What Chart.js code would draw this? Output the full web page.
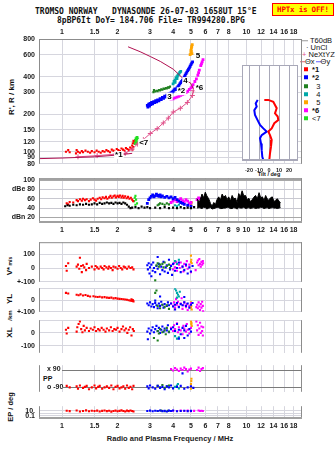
<!DOCTYPE html>
<html>
<head>
<meta charset="utf-8">
<script src="https://cdn.jsdelivr.net/npm/chart.js@4.4.1/dist/chart.umd.min.js"></script>
<style>
body { margin: 0; background: #fff; width: 335px; height: 451px; position: relative; overflow: hidden; font-family: "Liberation Sans", Arial, sans-serif; }
canvas { position: absolute; }
.t { position: absolute; white-space: pre; color: #111; line-height: 1; }
.mono { font-family: "DejaVu Sans Mono", monospace; font-size: 8px; font-weight: bold; }
.c { transform: translate(-50%, -50%); }
.rot { transform: translate(-50%, -50%) rotate(-90deg); font-weight: bold; }
.lg { position: absolute; left: 304px; font-size: 7.5px; white-space: pre; line-height: 1; transform: translateY(-50%); color: #111; }
.sq { display: inline-block; width: 4px; height: 4px; margin-right: 4px; vertical-align: 1px; }
</style>
</head>
<body>
<!-- en-tete -->
<div class="t mono" style="left:35px;top:8px">TROMSO NORWAY   DYNASONDE 26-07-03 1658UT 15°E</div>
<div class="t mono" style="left:57px;top:17px">8pBP6It DoY= 184.706 File= TR994280.BPG</div>
<div class="t mono" style="left:272px;top:3px;width:60px;height:11px;border:1px solid #f00;background:#ff0;color:#f00;text-align:center;line-height:11px;font-size:7.5px;letter-spacing:-0.2px">HPTx is OFF!</div>

<!-- titres des axes -->
<div class="t rot" style="left:12px;top:97px;font-size:8px">R', R / km</div>
<div class="t rot" style="left:10px;top:266px;font-size:8px">V*<span style="font-size:5px"> m/s</span></div>
<div class="t rot" style="left:10px;top:299px;font-size:8px">YL</div>
<div class="t rot" style="left:10px;top:324px;font-size:8px">XL<span style="font-size:6px">    /km</span></div>
<div class="t rot" style="left:11px;top:407px;font-size:7.5px">EP / deg</div>
<div class="t" style="left:43px;top:375px;font-size:7px;font-weight:bold">PP</div>
<div class="t c" style="left:269px;top:175px;font-size:5.5px;font-weight:bold">Tilt / deg</div>
<div class="t c" style="left:170px;top:439px;font-size:7.5px;font-weight:bold;color:#222">Radio and Plasma Frequency / MHz</div>

<!-- legende -->
<div class="lg" style="top:41px;left:302px"><span style="display:inline-block;width:6px;border-top:1px solid #999;vertical-align:2px;margin-right:2px"></span>T60dB</div>
<div class="lg" style="top:48px;left:306px">· UnCl</div>
<div class="lg" style="top:55px;left:302px"><span style="color:#e0508a">+</span> NeXtYZ</div>
<div class="lg" style="top:62px;left:300px"><span style="display:inline-block;width:5px;border-top:1px solid #e06070;vertical-align:2px"></span>Θx<span style="display:inline-block;width:5px;border-top:1px solid #6060ff;vertical-align:2px;margin-left:1px"></span>Θy</div>
<div class="lg" style="top:70px"><span class="sq" style="background:#f00"></span><b>*1</b></div>
<div class="lg" style="top:78px"><span class="sq" style="background:#00f"></span><b>*2</b></div>
<div class="lg" style="top:86.5px"><span class="sq" style="background:#208020"></span>  3</div>
<div class="lg" style="top:94.5px"><span class="sq" style="background:#00a8a8"></span>  4</div>
<div class="lg" style="top:102.5px"><span class="sq" style="background:#ffa500"></span>  5</div>
<div class="lg" style="top:110.5px"><span class="sq" style="background:#f0f"></span><b>*6</b></div>
<div class="lg" style="top:118.5px"><span class="sq" style="background:#20e020"></span>&lt;7</div>

<script>
// graduations en frequence (MHz)
const ticksTop = [1, 1.5, 2, 3, 4, 5, 6, 7, 8, 10, 12, 14, 16, 18];
const ticksMid = [1, 1.5, 2, 3, 4, 5, 6, 7, 8, 9, 10, 12, 14, 16, 18];
const ticksBottom = [1, 1.5, 2, 3, 4, 5, 6, 7, 8, 10, 12, 14, 16, 18];
const heightTicks = [80, 90, 100, 120, 150, 200, 300, 400, 600, 800];

// ionogramme : [f MHz, hauteur km]
const ionoRed = [[1.05,100],[1.08,103],[1.1,99],[1.19,97],[1.2,103],[1.22,100],[1.25,98],[1.28,101],[1.3,99],[1.34,102],[1.38,100],[1.42,98],[1.45,101],[1.5,99],[1.54,102],[1.58,100],[1.62,98],[1.66,101],[1.7,100],[1.74,103],[1.78,101],[1.82,99],[1.86,104],[1.9,102],[1.94,100],[1.98,105],[2.02,103],[2.06,101],[2.1,106],[2.14,104],[2.18,102],[2.22,107],[2.26,105],[2.3,103],[2.34,108],[2.38,106],[2.4,112],[2.42,117],[2.44,122],[2.41,104],[2.43,109]];
const ionoLime = [[2.47,118],[2.5,123],[2.52,127],[2.55,130],[2.5,116],[2.53,120],[2.57,126]];
const ionoBlue = [[2.9,235],[2.92,228],[2.95,240],[2.98,232],[3.0,244],[3.03,238],[3.06,248],[3.1,242],[3.14,252],[3.18,247],[3.22,256],[3.26,251],[3.3,260],[3.35,256],[3.4,266],[3.45,262],[3.5,272],[3.55,268],[3.6,278],[3.65,274],[3.7,284],[3.75,280],[3.8,290],[3.86,286],[3.9,296],[3.95,300],[4.0,305],[4.05,312],[4.1,318],[4.15,314],[4.2,325],[4.25,332],[4.3,340],[4.35,350],[4.4,358],[4.45,366],[4.5,375],[4.55,386],[4.6,398],[4.65,410],[4.7,422],[4.75,434],[4.8,446],[4.85,458],[4.9,470],[4.95,484],[5.0,498],[5.05,512],[5.1,525]];
const ionoGreen = [[3.13,300],[3.15,312],[3.2,304],[3.25,308],[3.3,306],[3.35,312],[3.4,310],[3.45,316],[3.5,314],[3.55,320],[3.6,318],[3.65,324],[3.7,322],[3.75,328],[3.8,326],[3.85,332]];
const ionoTeal = [[4.0,350],[4.05,365],[4.1,375],[4.15,390],[4.2,400],[4.25,410],[4.3,420],[4.35,432],[4.4,440],[4.1,360],[4.2,385]];
const ionoOrange = [[4.95,600],[5.0,620],[5.0,650],[5.03,680],[5.05,700],[5.08,720],[5.02,640],[5.06,610]];
const ionoMagenta = [[3.9,262],[3.95,266],[4.0,265],[4.1,270],[4.2,274],[4.3,278],[4.4,283],[4.5,287],[4.6,291],[4.7,297],[4.8,305],[4.9,315],[5.0,325],[5.07,331],[5.15,345],[5.25,365],[5.35,383],[5.45,410],[5.55,450],[5.65,490],[5.75,525],[5.81,547],[5.7,505],[5.5,430]];
const profileNe = [[1.22,91],[1.55,93],[1.94,95.5],[2.2,97],[2.4,105],[2.56,115],[2.76,125],[3.01,140],[3.28,153],[3.54,170],[3.77,186],[4.01,208],[4.38,223],[4.78,248],[5.09,282],[5.15,308]];
const profileUpper = [[5.15,320],[4.97,356],[4.66,371],[4.01,458],[3.41,529],[3.01,579],[2.65,633],[2.28,693]];
const profileLower = [[0.75,88],[1.0,89],[1.5,91],[2.0,94],[2.4,97]];
const traceLabels = [['*1',1.94,94],['<7',2.62,118],['3',3.72,276],['*2',4.24,305],['4',4.54,368],['*6',5.3,327],['5',5.3,590]];

// inclinaison (encart)
const tiltXDeg = [-4.7,-0.7,4.3,6,7.7,6,8.7,9.3,5.3,2.7,-0.7,1,2.7,2,1,0.3];
const tiltXKm = [341,341,335,325,315,299,289,278,268,252,242,231,216,195,174,153];
const tiltYDeg = [-11.3,-13.3,-12.3,-14.7,-14,-12.3,-10.7,-9,-5.7,-2.3,-7.3,-9,-8,-7.3,-6.7,-5.7];
const tiltYKm = [341,330,320,309,294,283,273,263,252,242,231,221,205,184,163,153];

// amplitude : [f, dB]
const ampRed = [[1.06,50],[1.08,48],[1.1,53],[1.15,52],[1.2,57],[1.22,55],[1.25,59],[1.28,56],[1.3,60],[1.33,57],[1.36,59],[1.4,55],[1.43,58],[1.47,61],[1.5,58],[1.53,56],[1.56,60],[1.6,62],[1.63,59],[1.66,63],[1.7,61],[1.73,64],[1.76,60],[1.8,63],[1.83,66],[1.86,62],[1.9,65],[1.93,67],[1.96,63],[2.0,66],[2.03,64],[2.06,67],[2.1,63],[2.13,66],[2.16,62],[2.2,65],[2.24,61],[2.28,64],[2.32,60],[2.36,62],[2.4,58],[2.43,55]];
const ampBlack = [[1.04,44],[1.07,46],[1.1,45],[1.15,47],[1.2,46],[1.25,48],[1.3,47],[1.35,49],[1.4,47],[1.45,48],[1.5,50],[1.55,48],[1.6,51],[1.65,49],[1.7,50],[1.75,52],[1.8,50],[1.85,51],[1.9,49],[1.95,52],[2.0,50],[2.05,51],[2.1,49],[2.15,52],[2.2,50],[2.25,47],[2.3,43],[2.35,40],[2.4,41],[2.5,42],[2.6,40],[2.7,43],[2.8,41],[2.9,42],[3.0,40],[3.2,41],[3.4,40],[3.6,42],[3.8,40],[4.0,41],[4.2,40],[4.4,42],[4.6,40],[4.8,41],[5.0,40],[5.2,42]];
const ampLime = [[2.46,55],[2.48,62],[2.5,66],[2.52,58],[2.55,50],[2.5,47]];
const ampBlue = [[2.9,50],[2.95,58],[3.0,62],[3.05,65],[3.1,68],[3.15,64],[3.2,66],[3.25,70],[3.3,67],[3.35,65],[3.4,68],[3.45,64],[3.5,66],[3.6,63],[3.7,65],[3.8,62],[3.9,64],[4.0,60],[4.1,63],[4.2,58],[4.3,55],[4.4,52],[4.5,50],[4.6,48],[4.8,46],[5.0,44]];
const ampGreen = [[3.3,46],[3.35,48],[3.4,50],[3.5,49],[3.6,47],[3.7,50],[3.8,48]];
const ampTeal = [[4.1,46],[4.2,44],[4.3,47]];
const ampMagenta = [[3.9,52],[4.0,55],[4.1,58],[4.2,54],[4.3,57],[4.4,60],[4.5,56],[4.6,53],[4.7,58],[4.8,55],[4.9,50],[5.0,52],[5.4,58],[5.5,62],[5.6,60],[5.7,56]];
const ampOrange = [[5.0,50],[5.02,46],[5.05,52]];
const noiseFreq = [5.4,5.55,5.74,5.86,5.98,6.1,6.24,6.38,6.51,6.65,6.78,6.92,7.07,7.22,7.38,7.53,7.69,7.85,8.01,8.18,8.36,8.53,8.71,8.9,9.08,9.27,9.47,9.67,9.88,10.1,10.3,10.5,10.7,10.95,11.2,11.45,11.7,11.95,12.2,12.45,12.7,12.95,13.2,13.5,13.8,14.1,14.4,14.7,15.0,15.3];
const noiseTop = [60,52,70,62,74,66,60,50,44,52,47,58,64,57,70,63,67,58,64,55,67,60,61,52,71,64,77,66,67,58,61,54,57,63,67,60,73,62,64,56,67,60,57,62,64,54,57,60,55,51];
const noiseBottom = [40,41,39,42,41,38,40,41,38,39,40,42,41,39,39,40,40,42,41,39,39,41,40,38,41,40,40,42,39,40,41,39,40,41,39,40,40,42,41,39,40,41,39,40,41,40,40,39,40,41];

// vitesses V* (m/s), YL et XL (km)
const vsRed = [[1.05,15],[1.06,-20],[1.08,35],[1.2,10],[1.22,25],[1.24,-5],[1.25,75],[1.27,15],[1.28,-30],[1.3,20],[1.32,5],[1.35,-15],[1.36,30],[1.4,0],[1.45,10],[1.5,-10],[1.52,15],[1.55,5],[1.58,-5],[1.62,10],[1.65,0],[1.68,-10],[1.7,15],[1.74,5],[1.78,-5],[1.8,10],[1.84,0],[1.88,-15],[1.9,10],[1.95,5],[2.0,-5],[2.04,15],[2.08,0],[2.12,-10],[2.16,10],[2.2,5],[2.25,-5],[2.3,10],[2.35,0],[2.4,5],[2.44,-10]];
const ylRed = [[1.05,60],[1.08,55],[1.2,45],[1.23,40],[1.26,48],[1.3,38],[1.34,42],[1.38,35],[1.42,30],[1.48,32],[1.52,28],[1.56,25],[1.6,28],[1.65,22],[1.7,24],[1.75,20],[1.8,18],[1.85,20],[1.9,14],[1.95,16],[2.0,12],[2.05,10],[2.1,8],[2.15,6],[2.2,4],[2.25,2],[2.3,-2],[2.35,-5],[2.4,-8],[2.44,-12],[2.38,5],[2.42,0]];
const xlRed = [[1.05,25],[1.08,40],[1.06,-5],[1.2,10],[1.21,45],[1.23,70],[1.25,90],[1.27,30],[1.29,5],[1.31,55],[1.33,20],[1.36,40],[1.4,15],[1.43,35],[1.47,25],[1.5,45],[1.53,15],[1.57,30],[1.6,20],[1.64,40],[1.68,25],[1.72,10],[1.75,35],[1.8,20],[1.84,45],[1.88,15],[1.92,30],[1.96,25],[2.0,40],[2.05,10],[2.1,30],[2.14,50],[2.18,20],[2.22,35],[2.26,0],[2.3,25],[2.34,45],[2.38,-20],[2.42,30],[2.45,15]];
const vsBlue = [[2.9,20],[2.92,-10],[2.95,35],[2.98,-40],[3.0,5],[3.05,25],[3.1,-20],[3.12,40],[3.15,0],[3.2,-30],[3.25,15],[3.3,-5],[3.35,30],[3.4,-45],[3.45,10],[3.5,-15],[3.55,45],[3.6,-25],[3.65,5],[3.7,20],[3.75,-35],[3.8,60],[3.85,-10],[3.9,15],[3.95,-50],[4.0,30],[4.1,-20],[4.2,0],[4.3,40],[4.4,-30],[4.5,10],[4.6,-15],[4.7,25],[4.8,-40],[4.9,5],[5.0,-25],[5.1,15],[3.3,80],[3.05,-60]];
const ylBlue = [[2.9,-30],[2.95,-45],[3.0,-20],[3.05,-55],[3.1,-35],[3.15,-60],[3.2,-25],[3.25,-45],[3.3,-70],[3.35,-30],[3.4,-50],[3.45,-15],[3.5,-40],[3.55,-65],[3.6,-35],[3.7,-50],[3.75,-20],[3.8,-45],[3.9,-30],[4.0,-55],[4.1,-40],[4.2,-25],[4.3,-60],[4.4,-35],[4.5,-45],[4.6,-20],[4.7,-50],[4.8,-30],[4.9,-65],[5.0,-40],[5.1,-25],[3.2,-5],[4.1,-80],[3.4,30],[4.6,25]];
const xlBlue = [[2.9,10],[2.95,35],[3.0,-5],[3.05,20],[3.1,45],[3.15,5],[3.2,30],[3.25,55],[3.3,15],[3.35,40],[3.4,0],[3.45,25],[3.5,50],[3.55,10],[3.6,35],[3.7,20],[3.75,60],[3.8,5],[3.9,30],[4.0,45],[4.1,15],[4.2,70],[4.3,25],[4.4,-10],[4.5,40],[4.6,20],[4.7,55],[4.8,-20],[4.9,30],[5.0,10],[2.92,-50],[4.3,-45],[4.6,-40]];
const vsMagenta = [[3.9,20],[4.0,-10],[4.05,35],[4.1,5],[4.15,45],[4.2,-20],[4.3,25],[4.35,0],[4.4,40],[4.5,10],[4.55,-25],[4.6,30],[4.7,15],[4.75,50],[4.8,-5],[4.9,25],[5.0,-30],[5.4,40],[5.45,55],[5.5,20],[5.55,65],[5.6,30],[5.65,10],[5.7,45],[5.75,25],[5.8,50],[5.82,35],[5.3,-15]];
const ylMagenta = [[3.9,-30],[4.0,-50],[4.05,-20],[4.1,-65],[4.2,-40],[4.25,-15],[4.3,-55],[4.4,-30],[4.5,-75],[4.55,-45],[4.6,-20],[4.7,-60],[4.75,-35],[4.8,-85],[4.9,-50],[5.0,-25],[5.4,-40],[5.45,-70],[5.5,-20],[5.55,-55],[5.6,-85],[5.65,-35],[5.7,-65],[5.75,-15],[5.8,-50],[5.82,-95],[5.35,-60],[4.15,10],[4.45,15]];
const xlMagenta = [[3.9,40],[4.0,15],[4.05,60],[4.1,30],[4.2,75],[4.25,5],[4.3,45],[4.4,20],[4.5,-10],[4.55,55],[4.6,35],[4.7,10],[4.75,70],[4.8,25],[4.9,-5],[5.0,40],[5.4,20],[5.45,60],[5.5,-15],[5.55,35],[5.6,80],[5.65,0],[5.7,50],[5.75,15],[5.8,-20],[5.82,45],[5.35,90]];
const vsGreen = [[3.25,20],[3.3,35],[3.35,10],[3.4,25],[3.5,30],[3.55,5],[3.6,40],[3.7,15],[3.8,25],[3.85,0],[3.2,-90]];
const ylGreen = [[3.3,-50],[3.4,-70],[3.5,-40],[3.6,-60],[3.7,-45],[3.8,-75],[3.2,60],[3.25,80]];
const xlGreen = [[3.3,15],[3.35,-5],[3.4,30],[3.5,5],[3.6,20],[3.65,-10],[3.7,40],[3.8,10],[3.3,-60],[3.15,-40]];
const vsTeal = [[4.1,50],[4.2,30],[4.3,60]];
const ylTeal = [[4.1,95],[4.15,80],[4.2,60],[4.25,45],[4.3,30],[4.2,20],[4.35,70]];
const xlTeal = [[4.1,-25],[4.2,-45],[4.3,-35]];
const vsOrange = [[5.0,90],[5.02,60],[5.05,35],[5.0,45]];
const ylOrange = [[5.0,-20],[5.02,-50],[5.05,-80],[5.0,-65]];
const xlOrange = [[5.0,90],[5.02,70],[5.05,55],[5.03,80]];

// polarisation PP (deg) et EP (deg)
const ppRed = [[1.06,-80],[1.1,-95],[1.2,-85],[1.22,-110],[1.25,-75],[1.3,-100],[1.33,-90],[1.36,-80],[1.4,-115],[1.45,-95],[1.5,-75],[1.53,-105],[1.57,-90],[1.6,-80],[1.65,-110],[1.7,-95],[1.75,-85],[1.8,-100],[1.85,-75],[1.9,-115],[1.95,-90],[2.0,-80],[2.05,-105],[2.1,-95],[2.15,-85],[2.2,-110],[2.25,-75],[2.3,-100],[2.35,-90],[2.4,-115],[2.44,-80]];
const ppBlue = [[2.9,-85],[2.95,-105],[3.0,-75],[3.1,-95],[3.2,-110],[3.3,-80],[3.4,-100],[3.5,-90],[3.6,-115],[3.7,-85],[3.8,-95],[3.9,-75],[4.0,-105],[4.2,-90],[4.4,-80],[4.6,-110],[4.8,-95],[5.0,-85],[5.15,-100],[4.5,50]];
const ppGreen = [[3.3,-80],[3.4,-95],[3.5,-70],[3.6,-100],[3.7,-85],[3.8,-75]];
const ppTeal = [[4.1,-90],[4.2,-75],[4.3,-105],[4.25,-60]];
const ppOrange = [[5.0,-90],[5.0,-60],[5.02,-30],[5.03,-5],[5.0,-110]];
const ppMagenta = [[3.9,95],[4.0,80],[4.1,105],[4.2,90],[4.3,75],[4.4,100],[4.5,85],[4.6,110],[4.7,95],[4.8,70],[4.9,90],[5.0,100],[5.4,85],[5.5,110],[5.6,75],[5.7,95],[5.8,105]];
const epRed = [[1.06,12],[1.1,8],[1.2,15],[1.25,6],[1.3,10],[1.35,18],[1.4,7],[1.45,12],[1.5,9],[1.55,14],[1.6,6],[1.65,11],[1.7,16],[1.75,8],[1.8,12],[1.85,5],[1.9,10],[1.95,14],[2.0,7],[2.05,11],[2.1,18],[2.15,9],[2.2,6],[2.25,13],[2.3,8],[2.35,15],[2.4,10],[2.44,6]];
const epBlue = [[2.9,10],[3.0,14],[3.1,7],[3.2,12],[3.3,9],[3.4,16],[3.5,8],[3.6,11],[3.7,6],[3.8,13],[3.9,9],[4.0,15],[4.2,7],[4.4,10],[4.6,12],[4.8,8],[5.0,11]];
const epGreen = [[3.3,9],[3.45,14],[3.6,7],[3.75,11]];
const epMagenta = [[4.0,12],[4.2,9],[4.4,14],[4.6,10],[4.8,13],[5.0,8],[5.2,11],[5.5,15],[5.6,9],[5.7,12],[5.8,10]];

const C = { red: '#ff0000', blue: '#0000ff', green: '#208020', teal: '#00a8a8', orange: '#ffa500', magenta: '#ff00ff', lime: '#20e020', black: '#000000' };
const tickFont = { family: 'Liberation Sans', size: 7, weight: 'bold' };
const GRID = '#d6d6de';

/* outils */
const pts = arr => arr.map(([x, y]) => ({ x, y }));
const zip = (xs, ys) => xs.map((x, i) => ({ x, y: ys[i] }));
function dots(arr, color, r) {
    return { data: pts(arr), backgroundColor: color, borderWidth: 0, pointStyle: 'rect', pointRadius: r || 1.5 };
}
function line(data, color, extra) {
    return Object.assign({ type: 'line', data, borderColor: color, borderWidth: 1, pointRadius: 0, fill: false, tension: 0 }, extra);
}

function freqAxis(ticks, o = {}) {
    return {
        type: 'logarithmic', min: 0.75, max: 20,
        position: o.position || 'bottom',
        afterBuildTicks: s => { s.ticks = ticks.map(v => ({ value: v })); },
        afterFit: s => { s.height = o.height || 0; },
        ticks: { display: !!o.labels, autoSkip: false, maxRotation: 0, padding: 3, font: tickFont, color: '#1a1a1a', callback: v => String(v) },
        grid: { color: GRID, drawTicks: false },
        border: { display: false }
    };
}

function yAxis(o) {
    return {
        type: o.type || 'linear', min: o.min, max: o.max,
        afterFit: s => { s.width = 39; },
        afterBuildTicks: s => { s.ticks = o.ticks.map(v => ({ value: v })); },
        ticks: {
            autoSkip: false, padding: o.padding || 4, mirror: !!o.mirror, font: tickFont, color: '#1a1a1a',
            callback: v => (o.labels ? (o.labels[v] ?? '') : String(v))
        },
        grid: { display: o.grid !== false, color: o.gridColor || GRID, lineWidth: o.gridWidth || 1, drawTicks: false },
        border: { display: false }
    };
}

// cadre des panneaux
const framePlugin = {
    id: 'frame',
    beforeDraw(chart, args, o) {
        if (!o.fill) return;
        const a = chart.chartArea, ctx = chart.ctx;
        ctx.save(); ctx.fillStyle = o.fill; ctx.fillRect(a.left, a.top, a.right - a.left, a.bottom - a.top); ctx.restore();
    },
    afterDraw(chart, args, o) {
        const a = chart.chartArea, ctx = chart.ctx;
        ctx.save();
        ctx.strokeStyle = o.color || '#8c8c8c';
        ctx.lineWidth = 1;
        ctx.beginPath();
        if (o.left) { ctx.moveTo(a.left + 0.5, a.top); ctx.lineTo(a.left + 0.5, a.bottom); }
        if (o.right) { ctx.moveTo(a.right - 0.5, a.top); ctx.lineTo(a.right - 0.5, a.bottom); }
        if (o.top) { ctx.moveTo(a.left, a.top + 0.5); ctx.lineTo(a.right, a.top + 0.5); }
        ctx.stroke();
        if (o.bottom) {
            ctx.lineWidth = 2;
            ctx.strokeStyle = o.bottomColor || '#a0a0a0';
            ctx.beginPath(); ctx.moveTo(a.left, a.bottom - 1); ctx.lineTo(a.right, a.bottom - 1); ctx.stroke();
        }
        ctx.restore();
    }
};

// libelles des traces et lignes de reference
const notesPlugin = {
    id: 'notes',
    beforeDatasetsDraw(chart, args, o) {
        if (!o.refLines) return;
        const ctx = chart.ctx, xs = chart.scales.x, ys = chart.scales.y, a = chart.chartArea;
        ctx.save(); ctx.strokeStyle = '#7a7a7a'; ctx.lineWidth = 1;
        o.refLines.forEach(v => {
            const y = Math.round(ys.getPixelForValue(v)) + 0.5;
            ctx.beginPath(); ctx.moveTo(xs.getPixelForValue(o.refFrom), y); ctx.lineTo(a.right, y); ctx.stroke();
        });
        ctx.restore();
    },
    afterDatasetsDraw(chart, args, o) {
        if (!o.items) return;
        const ctx = chart.ctx, xs = chart.scales.x, ys = chart.scales.y;
        ctx.save();
        ctx.font = 'bold 8px "Liberation Sans"';
        ctx.textBaseline = 'middle';
        o.items.forEach(([t, f, h]) => {
            const x = xs.getPixelForValue(f), y = ys.getPixelForValue(h);
            const w = ctx.measureText(t).width;
            ctx.fillStyle = '#fff'; ctx.fillRect(x - 1, y - 4, w + 2, 8);
            ctx.fillStyle = '#000'; ctx.fillText(t, x, y);
        });
        ctx.restore();
    }
};

function panel(box, datasets, scales, plugins) {
    const c = document.createElement('canvas');
    c.width = box.w; c.height = box.h;
    c.style.left = box.x + 'px'; c.style.top = box.y + 'px';
    c.style.width = box.w + 'px'; c.style.height = box.h + 'px';
    document.body.appendChild(c);
    return new Chart(c, {
        type: 'scatter',
        data: { datasets },
        options: {
            responsive: false, animation: false, events: [],
            layout: { padding: box.pad },
            plugins: Object.assign({ legend: { display: false }, tooltip: { enabled: false } }, plugins),
            scales
        },
        plugins: [framePlugin, notesPlugin]
    });
}

const padR = (t, b) => ({ left: 0, right: 33, top: t, bottom: b });

/* ionogramme */
panel({ x: 0, y: 24, w: 335, h: 148, pad: padR(0, 5) }, [
    line(pts(profileLower), '#b01050'),
    line(pts(profileUpper), '#b01050'),
    line(pts(profileNe), '#e0508a', { pointRadius: 2.5, pointStyle: 'cross', pointBorderColor: '#e0508a', pointBorderWidth: 1 }),
    dots(ionoRed, C.red),
    dots(ionoLime, C.lime, 2),
    dots(ionoGreen, C.green),
    dots(ionoBlue, C.blue, 2),
    dots(ionoTeal, C.teal, 2),
    dots(ionoMagenta, C.magenta, 2),
    dots(ionoOrange, C.orange, 2)
], {
    x: freqAxis(ticksTop, { position: 'top', height: 15, labels: true }),
    y: yAxis({ type: 'logarithmic', min: 80, max: 800, ticks: heightTicks })
}, { frame: { left: true, top: true, right: true }, notes: { items: traceLabels } });

/* encart inclinaison */
panel({ x: 236, y: 62, w: 70, h: 116, pad: { left: 6, right: 8, top: 3, bottom: 0 } }, [
    line(zip(tiltXDeg, tiltXKm), '#ff0000', { borderWidth: 2 }),
    line(zip(tiltYDeg, tiltYKm), '#0000ff', { borderWidth: 2 })
], {
    x: {
        type: 'linear', min: -27, max: 29,
        afterBuildTicks: s => { s.ticks = [-20, -10, 0, 10, 20].map(v => ({ value: v })); },
        afterFit: s => { s.height = 17; },
        ticks: { autoSkip: false, maxRotation: 0, padding: 6, font: { family: 'Liberation Sans', size: 5.5, weight: 'bold' }, color: '#222' },
        grid: { color: '#a8a8b8', drawTicks: false },
        border: { display: false }
    },
    y: { type: 'linear', min: 150, max: 450, display: false }
}, { frame: { left: true, top: true, right: true, fill: '#fff', color: '#a8a8b8', bottom: true, bottomColor: '#a8a8b8' } });

/* amplitude */
panel({ x: 0, y: 170, w: 335, h: 66, pad: padR(5, 0) }, [
    line(zip(noiseFreq, noiseTop), C.black, { fill: '+1', backgroundColor: C.black }),
    line(zip(noiseFreq, noiseBottom), C.black),
    dots(ampBlack, C.black),
    dots(ampRed, C.red),
    dots(ampLime, C.lime),
    dots(ampBlue, C.blue, 2),
    dots(ampGreen, C.green),
    dots(ampTeal, C.teal),
    dots(ampMagenta, C.magenta, 2),
    dots(ampOrange, C.orange)
], {
    x: freqAxis(ticksMid, { height: 13, labels: true }),
    y: yAxis({
        min: 8, max: 104, ticks: [100, 80, 60, 40, 20],
        labels: { 100: '100', 80: 'dBe 80', 60: '60', 40: '40', 20: 'dBn 20' },
        gridColor: c => (c.tick && (c.tick.value === 100 || c.tick.value === 20) ? '#a8a8a8' : '#c8c8d0'),
        gridWidth: c => (c.tick && c.tick.value === 100 ? 2 : 1)
    })
}, { frame: { left: true, top: true, right: true, bottom: true } });

/* V* */
panel({ x: 0, y: 234, w: 335, h: 56, pad: padR(4, 6) }, [
    dots(vsRed, C.red), dots(vsGreen, C.green), dots(vsBlue, C.blue), dots(vsTeal, C.teal),
    dots(vsMagenta, C.magenta), dots(vsOrange, C.orange)
], {
    x: freqAxis(ticksMid),
    y: yAxis({ min: -100, max: 187.5, ticks: [100, 0, -100], labels: { 100: '100', 0: '0', '-100': '+-100' } })
}, { frame: { left: true, top: true, right: true } });

/* YL */
panel({ x: 0, y: 280, w: 335, h: 40, pad: padR(4, 4) }, [
    dots(ylRed, C.red), dots(ylGreen, C.green), dots(ylBlue, C.blue), dots(ylTeal, C.teal),
    dots(ylMagenta, C.magenta), dots(ylOrange, C.orange)
], {
    x: freqAxis(ticksMid),
    y: yAxis({ min: -100, max: 100, ticks: [100, 0, -100], labels: { 0: '0', '-100': '+-100' } })
}, { frame: { left: true, right: true } });

/* XL */
panel({ x: 0, y: 312, w: 335, h: 49, pad: padR(4, 4) }, [
    dots(xlRed, C.red), dots(xlGreen, C.green), dots(xlBlue, C.blue), dots(xlTeal, C.teal),
    dots(xlMagenta, C.magenta), dots(xlOrange, C.orange)
], {
    x: freqAxis(ticksMid),
    y: yAxis({ min: -156.25, max: 100, ticks: [100, 0, -100], labels: { 0: '0', '-100': '-100' } })
}, { frame: { left: true, right: true } });

/* PP */
panel({ x: 0, y: 353, w: 335, h: 51, pad: padR(4, 4) }, [
    dots(ppRed, C.red), dots(ppBlue, C.blue), dots(ppGreen, C.green), dots(ppTeal, C.teal),
    dots(ppOrange, C.orange), dots(ppMagenta, C.magenta)
], {
    x: freqAxis(ticksBottom),
    y: yAxis({ min: -141, max: 135, ticks: [90, -90], labels: { 90: 'x 90', '-90': 'o -90' }, mirror: true, padding: 8, grid: false })
}, { frame: { left: true, right: true }, notes: { refLines: [90, -90], refFrom: 1 } });

/* EP */
panel({ x: 0, y: 398, w: 335, h: 50, pad: padR(2, 3) }, [
    dots(epRed, C.red), dots(epBlue, C.blue), dots(epGreen, C.green), dots(epMagenta, C.magenta)
], {
    x: freqAxis(ticksBottom, { height: 26, labels: true }),
    y: yAxis({ type: 'logarithmic', min: 0.004, max: 1000, ticks: [10, 1, 0.1], labels: { 10: '10.', 0.1: '0.1' } })
}, { frame: { left: true, right: true, bottom: true } });
</script>
</body>
</html>
